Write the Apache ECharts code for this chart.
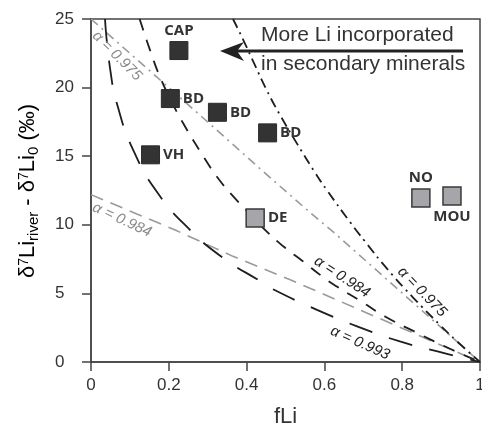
<!DOCTYPE html>
<html>
<head>
<meta charset="utf-8">
<script src="https://cdn.jsdelivr.net/npm/echarts@6/dist/echarts.min.js"></script>
<style>
  html, body { margin: 0; padding: 0; background: #fff; }
  #main { width: 482px; height: 433px; }
</style>
</head>
<body>
<div id="main"></div>
<script>
// tick values
var xTicks = [0, 0.2, 0.4, 0.6, 0.8, 1];
var yTicks = [0, 5, 10, 15, 20, 25];

// river samples: fLi and d7Li(river) - d7Li(0)
var blackNames = ["CAP", "BD", "BD", "BD", "VH"];
var blackF = [0.226, 0.204, 0.325, 0.454, 0.153];
var blackD = [22.7, 19.2, 18.2, 16.7, 15.1];
var greyNames = ["DE", "NO", "MOU"];
var greyF = [0.422, 0.848, 0.928];
var greyD = [10.5, 11.95, 12.1];

// model curves, [fLi, delta]
var ray975 = [[0.365, 25], [0.391, 23.5], [0.422, 21.6], [0.452, 19.8], [0.486, 18.0], [0.53, 15.9],
  [0.576, 13.8], [0.607, 12.5], [0.666, 10.2], [0.704, 8.8], [0.761, 6.8], [0.828, 4.7],
  [0.897, 2.7], [0.941, 1.5], [1, 0]];
var ray984 = [[0.125, 25], [0.157, 22.3], [0.177, 20.8], [0.205, 19.1], [0.237, 17.4], [0.293, 14.8],
  [0.329, 13.3], [0.368, 12.0], [0.422, 10.4], [0.452, 9.5], [0.5, 8.3], [0.542, 7.4],
  [0.596, 6.2], [0.632, 5.5], [0.69, 4.5], [0.757, 3.3], [0.84, 2.1], [0.92, 1.0], [1, 0]];
var ray993 = [[0.036, 25], [0.049, 21.4], [0.069, 18.6], [0.111, 15.3], [0.172, 12.3], [0.252, 9.7],
  [0.339, 7.6], [0.44, 5.8], [0.468, 5.3], [0.581, 3.8], [0.684, 2.6], [0.794, 1.5],
  [0.915, 0.6], [1, 0]];
var batch975 = [[0, 25], [0.152, 21.2], [0.28, 18.0], [0.442, 13.9], [0.563, 10.9], [0.622, 9.5], [1, 0]];
var batch984 = [[0, 12.2], [0.218, 9.6], [0.365, 7.7], [0.512, 6.0], [1, 0]];

var labelPos = { CAP: "top", BD: "right", VH: "right", DE: "right", NO: "top", MOU: "bottom" };

function points(names, fs, ds) {
  return names.map(function (n, i) {
    return { name: n, value: [fs[i], ds[i]], label: { position: labelPos[n] } };
  });
}

function curve(data, color, width, dash, smooth) {
  return {
    type: "line",
    data: data,
    symbol: "none",
    smooth: smooth,
    silent: true,
    z: 1,
    lineStyle: { color: color, width: width, type: dash }
  };
}

var myChart = echarts.init(document.getElementById("main"));

var font = "Liberation Sans";
var ptLabel = {
  show: true,
  formatter: "{b}",
  fontFamily: "Open Sans",
  fontWeight: "bold",
  fontSize: 15,
  color: "#333",
  distance: 3
};

function alphaText(txt, x, y, deg, color) {
  return {
    type: "text",
    x: x,
    y: y,
    rotation: -deg * Math.PI / 180,
    z: 100,
    style: {
      text: txt,
      fill: color,
      fontFamily: font,
      fontStyle: "italic",
      fontSize: 15,
      align: "center",
      verticalAlign: "middle"
    }
  };
}

var option = {
  animation: false,
  backgroundColor: "#fff",
  grid: {
    left: 91,
    right: 2,
    top: 19,
    bottom: 71,
    show: true,
    borderColor: "#444",
    borderWidth: 1.5,
    outerBoundsMode: "none"
  },
  xAxis: {
    type: "value",
    min: 0,
    max: 1,
    interval: 0.2,
    name: "fLi",
    nameLocation: "middle",
    nameGap: 44,
    nameTextStyle: { fontFamily: font, fontSize: 22, color: "#333" },
    axisLine: { lineStyle: { color: "#444", width: 1.5 } },
    axisTick: { show: true, length: 9, customValues: xTicks, lineStyle: { color: "#444", width: 1.5 } },
    axisLabel: {
      customValues: xTicks,
      fontFamily: font,
      fontSize: 17,
      color: "#333",
      margin: 15,
      showMaxLabel: true,
      showMinLabel: true
    },
    splitLine: { show: false }
  },
  yAxis: {
    type: "value",
    min: 0,
    max: 25,
    interval: 5,
    axisLine: { show: true, lineStyle: { color: "#444", width: 1.5 } },
    axisTick: { show: true, length: 9, customValues: yTicks, lineStyle: { color: "#444", width: 1.5 } },
    axisLabel: {
      customValues: yTicks,
      fontFamily: font,
      fontSize: 17,
      color: "#333",
      align: "left",
      margin: 36
    },
    splitLine: { show: false }
  },
  series: [
    curve(batch975, "#9a9a9a", 1.6, [9, 5, 2, 5], false),
    curve(batch984, "#9a9a9a", 1.6, [13, 8], false),
    curve(ray975, "#1e1e1e", 1.8, [10, 5, 2, 5], true),
    curve(ray984, "#1e1e1e", 1.8, [12, 10], true),
    curve(ray993, "#1e1e1e", 1.8, [24, 18], true),
    {
      type: "scatter",
      symbol: "rect",
      symbolSize: 18,
      z: 5,
      itemStyle: { color: "#333", borderColor: "#2b2b2b", borderWidth: 1, opacity: 1 },
      label: ptLabel,
      data: points(blackNames, blackF, blackD)
    },
    {
      type: "scatter",
      symbol: "rect",
      symbolSize: 18,
      z: 5,
      itemStyle: { color: "#a6a6aa", borderColor: "#3a3a3a", borderWidth: 1.5, opacity: 1 },
      label: ptLabel,
      data: points(greyNames, greyF, greyD)
    }
  ],
  graphic: [
    {
      type: "text",
      x: 29,
      y: 191,
      rotation: Math.PI / 2,
      style: {
        text: "{m|δ}{sp|7}{m|Li}{sb|river}{m| - δ}{sp|7}{m|Li}{sb|0}{m| (‰)}",
        align: "center",
        verticalAlign: "middle",
        rich: {
          m: { fontFamily: font, fontSize: 22, color: "#333", lineHeight: 24, padding: [0, 0, 7, 0], verticalAlign: "top" },
          sp: { fontFamily: font, fontSize: 14, color: "#333", lineHeight: 14, verticalAlign: "top" },
          sb: { fontFamily: font, fontSize: 15, color: "#333", lineHeight: 15, verticalAlign: "bottom" }
        }
      }
    },
    // annotation arrow
    {
      type: "line",
      shape: { x1: 463, y1: 51, x2: 232, y2: 51 },
      style: { stroke: "#222", lineWidth: 3 }
    },
    {
      type: "polygon",
      shape: { points: [[220, 51], [244, 42], [237, 51], [244, 61]] },
      style: { fill: "#222" }
    },
    {
      type: "text",
      x: 261,
      y: 46,
      style: { text: "More Li incorporated", fill: "#333", fontFamily: font, fontSize: 21, verticalAlign: "bottom" }
    },
    {
      type: "text",
      x: 261,
      y: 75,
      style: { text: "in secondary minerals", fill: "#333", fontFamily: font, fontSize: 21, verticalAlign: "bottom" }
    },
    // curve labels
    alphaText("α = 0.975", 117, 56, 45, "#8a8a8a"),
    alphaText("α = 0.984", 122, 220, 25, "#8a8a8a"),
    alphaText("α = 0.984", 342, 277, 33, "#222"),
    alphaText("α = 0.975", 422, 292, 46, "#222"),
    alphaText("α = 0.993", 360, 343, 24, "#222")
  ]
};

myChart.setOption(option);
window.addEventListener("resize", function () {
  myChart.resize();
});
</script>
</body>
</html>
